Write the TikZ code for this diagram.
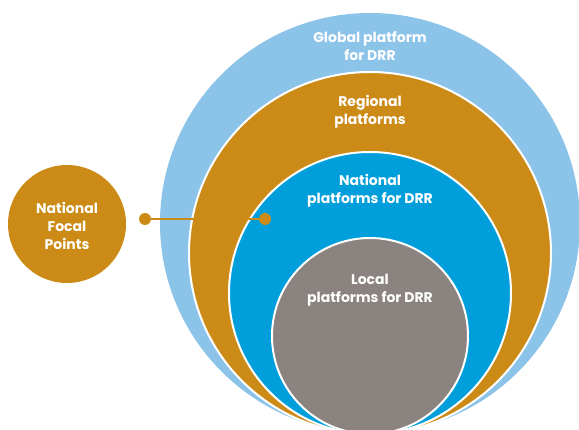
\documentclass[tikz,border=0pt]{standalone}
\usepackage{fontspec}
\setmainfont{Poppins}
\usepackage{tikz}
\definecolor{ceuazul}{HTML}{8CC3E9}
\definecolor{ouro}{HTML}{CC8A16}
\definecolor{azul}{HTML}{009FDC}
\definecolor{cinza}{HTML}{8B837F}

\begin{document}
\begin{tikzpicture}[x=1pt, y=-1pt,
	disco/.style={circle, draw=white, line width=2pt, inner sep=0pt},
	rotulo/.style={text=white, align=center, font=\fontsize{14}{18}\selectfont\bfseries},
	ponto/.style={circle, fill=ouro, inner sep=0pt, minimum size=12pt}]
		\useasboundingbox (0,0) rectangle (579,430);
		\clip (0,0) rectangle (579,430);

		% Os discos, um dentro do outro
			\node[disco, draw=none, fill=ceuazul, minimum size=420pt] (global) at (370,223) {};
			\node[disco, fill=ouro, minimum size=362pt] (regional) at (370,253) {};
			\node[disco, fill=azul, minimum size=282pt] (nacional) at (370,293) {};
			\node[disco, fill=cinza, minimum size=196pt] (local) at (370,336) {};
			\node[disco, draw=none, fill=ouro, minimum size=118pt] (focal) at (67,224) {};

		% Os textos
			\node[rotulo] (tglobal) at (370,46) {Global platform\\for DRR};
			\node[rotulo] (tregional) at (370,112) {Regional\\platforms};
			\node[rotulo] (tnacional) at (370,191) {National\\platforms for DRR};
			\node[rotulo] (tlocal) at (370,290) {Local\\platforms for DRR};
			\node[rotulo] (tfocal) at (67,226) {National\\Focal\\Points};

		% A ligacao
			\node[ponto] (pfocal) at (145,219) {};
			\node[ponto] (pnacional) at (265,219) {};
			\draw[ouro, line width=1.5pt] (pfocal) -- (pnacional);
	\end{tikzpicture}
\end{document}
